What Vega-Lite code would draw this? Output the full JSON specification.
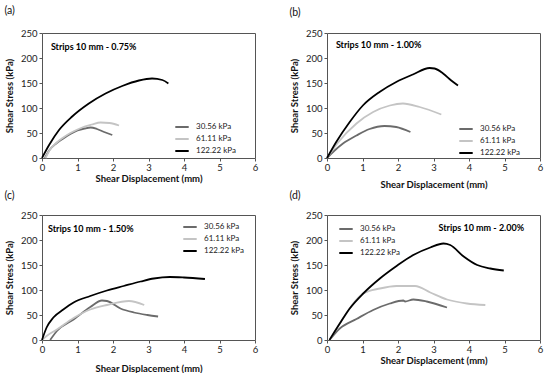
{
  "$schema": "https://vega.github.io/schema/vega-lite/v6.json",
  "background": "white",
  "padding": {"left": 3, "top": 5, "right": 5, "bottom": 0},
  "config": {
    "font": "Lato",
    "view": {"stroke": "#555555", "strokeWidth": 1},
    "axis": {
      "grid": false, "domain": false, "tickColor": "#555555", "tickSize": 3,
      "labelFont": "Lato", "labelFontSize": 9.5, "labelColor": "#222222", "labelOverlap": false, "labelFlush": false,
      "titleFont": "Lato", "titleFontSize": 9.5, "titleFontWeight": "bold", "titleColor": "#111111"
    },
    "legend": {
      "labelFont": "Lato", "labelFontSize": 8, "labelColor": "#222222",
      "symbolType": "stroke", "symbolStrokeWidth": 2, "symbolSize": 180,
      "rowPadding": -2, "labelOffset": 6, "title": null, "padding": 0
    },
    "title": {"font": "Lato", "fontSize": 10.5, "fontWeight": "normal", "anchor": "start", "frame": "bounds", "color": "#111111"}
  },
  "datasets": {
    "curves": [
      {"panel": "a", "load": "30.56 kPa", "x": 0.08, "y": 0},
      {"panel": "a", "load": "30.56 kPa", "x": 0.2, "y": 15},
      {"panel": "a", "load": "30.56 kPa", "x": 0.4, "y": 29},
      {"panel": "a", "load": "30.56 kPa", "x": 0.6, "y": 39},
      {"panel": "a", "load": "30.56 kPa", "x": 0.8, "y": 48},
      {"panel": "a", "load": "30.56 kPa", "x": 1.0, "y": 55},
      {"panel": "a", "load": "30.56 kPa", "x": 1.2, "y": 59},
      {"panel": "a", "load": "30.56 kPa", "x": 1.37, "y": 61},
      {"panel": "a", "load": "30.56 kPa", "x": 1.55, "y": 58},
      {"panel": "a", "load": "30.56 kPa", "x": 1.75, "y": 52},
      {"panel": "a", "load": "30.56 kPa", "x": 1.98, "y": 46},
      {"panel": "a", "load": "61.11 kPa", "x": 0.1, "y": 0},
      {"panel": "a", "load": "61.11 kPa", "x": 0.2, "y": 14},
      {"panel": "a", "load": "61.11 kPa", "x": 0.4, "y": 30},
      {"panel": "a", "load": "61.11 kPa", "x": 0.6, "y": 41},
      {"panel": "a", "load": "61.11 kPa", "x": 0.8, "y": 50},
      {"panel": "a", "load": "61.11 kPa", "x": 1.0, "y": 57},
      {"panel": "a", "load": "61.11 kPa", "x": 1.2, "y": 63},
      {"panel": "a", "load": "61.11 kPa", "x": 1.4, "y": 67},
      {"panel": "a", "load": "61.11 kPa", "x": 1.65, "y": 71},
      {"panel": "a", "load": "61.11 kPa", "x": 1.9, "y": 70},
      {"panel": "a", "load": "61.11 kPa", "x": 2.17, "y": 65},
      {"panel": "a", "load": "122.22 kPa", "x": 0.0, "y": 0},
      {"panel": "a", "load": "122.22 kPa", "x": 0.2, "y": 26},
      {"panel": "a", "load": "122.22 kPa", "x": 0.48, "y": 56},
      {"panel": "a", "load": "122.22 kPa", "x": 0.85, "y": 83},
      {"panel": "a", "load": "122.22 kPa", "x": 1.32, "y": 109},
      {"panel": "a", "load": "122.22 kPa", "x": 1.79, "y": 129},
      {"panel": "a", "load": "122.22 kPa", "x": 2.26, "y": 144},
      {"panel": "a", "load": "122.22 kPa", "x": 2.73, "y": 155},
      {"panel": "a", "load": "122.22 kPa", "x": 3.1, "y": 159},
      {"panel": "a", "load": "122.22 kPa", "x": 3.39, "y": 156},
      {"panel": "a", "load": "122.22 kPa", "x": 3.56, "y": 149},

      {"panel": "b", "load": "30.56 kPa", "x": 0.0, "y": 0},
      {"panel": "b", "load": "30.56 kPa", "x": 0.2, "y": 14},
      {"panel": "b", "load": "30.56 kPa", "x": 0.45, "y": 29},
      {"panel": "b", "load": "30.56 kPa", "x": 0.83, "y": 45},
      {"panel": "b", "load": "30.56 kPa", "x": 1.2, "y": 58},
      {"panel": "b", "load": "30.56 kPa", "x": 1.62, "y": 64},
      {"panel": "b", "load": "30.56 kPa", "x": 1.95, "y": 62},
      {"panel": "b", "load": "30.56 kPa", "x": 2.35, "y": 52},
      {"panel": "b", "load": "61.11 kPa", "x": 0.0, "y": 0},
      {"panel": "b", "load": "61.11 kPa", "x": 0.3, "y": 30},
      {"panel": "b", "load": "61.11 kPa", "x": 0.83, "y": 69},
      {"panel": "b", "load": "61.11 kPa", "x": 1.3, "y": 92},
      {"panel": "b", "load": "61.11 kPa", "x": 1.77, "y": 105},
      {"panel": "b", "load": "61.11 kPa", "x": 2.14, "y": 109},
      {"panel": "b", "load": "61.11 kPa", "x": 2.61, "y": 102},
      {"panel": "b", "load": "61.11 kPa", "x": 3.22, "y": 87},
      {"panel": "b", "load": "122.22 kPa", "x": 0.0, "y": 0},
      {"panel": "b", "load": "122.22 kPa", "x": 0.26, "y": 32},
      {"panel": "b", "load": "122.22 kPa", "x": 0.64, "y": 72},
      {"panel": "b", "load": "122.22 kPa", "x": 1.01, "y": 105},
      {"panel": "b", "load": "122.22 kPa", "x": 1.48, "y": 132},
      {"panel": "b", "load": "122.22 kPa", "x": 1.95, "y": 152},
      {"panel": "b", "load": "122.22 kPa", "x": 2.42, "y": 167},
      {"panel": "b", "load": "122.22 kPa", "x": 2.89, "y": 180},
      {"panel": "b", "load": "122.22 kPa", "x": 3.03, "y": 179},
      {"panel": "b", "load": "122.22 kPa", "x": 3.27, "y": 169},
      {"panel": "b", "load": "122.22 kPa", "x": 3.5, "y": 155},
      {"panel": "b", "load": "122.22 kPa", "x": 3.69, "y": 145},

      {"panel": "c", "load": "30.56 kPa", "x": 0.23, "y": 0},
      {"panel": "c", "load": "30.56 kPa", "x": 0.42, "y": 18},
      {"panel": "c", "load": "30.56 kPa", "x": 0.89, "y": 41},
      {"panel": "c", "load": "30.56 kPa", "x": 1.36, "y": 66},
      {"panel": "c", "load": "30.56 kPa", "x": 1.69, "y": 79},
      {"panel": "c", "load": "30.56 kPa", "x": 1.83, "y": 78},
      {"panel": "c", "load": "30.56 kPa", "x": 2.21, "y": 63},
      {"panel": "c", "load": "30.56 kPa", "x": 2.59, "y": 55},
      {"panel": "c", "load": "30.56 kPa", "x": 2.97, "y": 50},
      {"panel": "c", "load": "30.56 kPa", "x": 3.27, "y": 47},
      {"panel": "c", "load": "61.11 kPa", "x": 0.0, "y": 0},
      {"panel": "c", "load": "61.11 kPa", "x": 0.13, "y": 8},
      {"panel": "c", "load": "61.11 kPa", "x": 0.42, "y": 21},
      {"panel": "c", "load": "61.11 kPa", "x": 0.89, "y": 44},
      {"panel": "c", "load": "61.11 kPa", "x": 1.36, "y": 61},
      {"panel": "c", "load": "61.11 kPa", "x": 1.83, "y": 70},
      {"panel": "c", "load": "61.11 kPa", "x": 2.45, "y": 78},
      {"panel": "c", "load": "61.11 kPa", "x": 2.88, "y": 70},
      {"panel": "c", "load": "122.22 kPa", "x": 0.0, "y": 0},
      {"panel": "c", "load": "122.22 kPa", "x": 0.13, "y": 25},
      {"panel": "c", "load": "122.22 kPa", "x": 0.32, "y": 45},
      {"panel": "c", "load": "122.22 kPa", "x": 0.6, "y": 61},
      {"panel": "c", "load": "122.22 kPa", "x": 0.89, "y": 75},
      {"panel": "c", "load": "122.22 kPa", "x": 1.36, "y": 88},
      {"panel": "c", "load": "122.22 kPa", "x": 1.83, "y": 99},
      {"panel": "c", "load": "122.22 kPa", "x": 2.3, "y": 108},
      {"panel": "c", "load": "122.22 kPa", "x": 2.78, "y": 117},
      {"panel": "c", "load": "122.22 kPa", "x": 3.15, "y": 123},
      {"panel": "c", "load": "122.22 kPa", "x": 3.6, "y": 126},
      {"panel": "c", "load": "122.22 kPa", "x": 4.0, "y": 125},
      {"panel": "c", "load": "122.22 kPa", "x": 4.59, "y": 122},

      {"panel": "d", "load": "30.56 kPa", "x": 0.07, "y": 0},
      {"panel": "d", "load": "30.56 kPa", "x": 0.36, "y": 23},
      {"panel": "d", "load": "30.56 kPa", "x": 0.83, "y": 42},
      {"panel": "d", "load": "30.56 kPa", "x": 1.3, "y": 60},
      {"panel": "d", "load": "30.56 kPa", "x": 1.77, "y": 73},
      {"panel": "d", "load": "30.56 kPa", "x": 2.15, "y": 79},
      {"panel": "d", "load": "30.56 kPa", "x": 2.2, "y": 77},
      {"panel": "d", "load": "30.56 kPa", "x": 2.43, "y": 81},
      {"panel": "d", "load": "30.56 kPa", "x": 2.81, "y": 77},
      {"panel": "d", "load": "30.56 kPa", "x": 3.38, "y": 65},
      {"panel": "d", "load": "61.11 kPa", "x": 0.07, "y": 0},
      {"panel": "d", "load": "61.11 kPa", "x": 0.45, "y": 43},
      {"panel": "d", "load": "61.11 kPa", "x": 0.83, "y": 81},
      {"panel": "d", "load": "61.11 kPa", "x": 1.02, "y": 93},
      {"panel": "d", "load": "61.11 kPa", "x": 1.49, "y": 103},
      {"panel": "d", "load": "61.11 kPa", "x": 1.96, "y": 108},
      {"panel": "d", "load": "61.11 kPa", "x": 2.48, "y": 108},
      {"panel": "d", "load": "61.11 kPa", "x": 2.91, "y": 95},
      {"panel": "d", "load": "61.11 kPa", "x": 3.38, "y": 81},
      {"panel": "d", "load": "61.11 kPa", "x": 3.94, "y": 73},
      {"panel": "d", "load": "61.11 kPa", "x": 4.46, "y": 70},
      {"panel": "d", "load": "122.22 kPa", "x": 0.07, "y": 0},
      {"panel": "d", "load": "122.22 kPa", "x": 0.36, "y": 33},
      {"panel": "d", "load": "122.22 kPa", "x": 0.64, "y": 63},
      {"panel": "d", "load": "122.22 kPa", "x": 1.02, "y": 93},
      {"panel": "d", "load": "122.22 kPa", "x": 1.49, "y": 123},
      {"panel": "d", "load": "122.22 kPa", "x": 1.96, "y": 148},
      {"panel": "d", "load": "122.22 kPa", "x": 2.43, "y": 170},
      {"panel": "d", "load": "122.22 kPa", "x": 2.91, "y": 185},
      {"panel": "d", "load": "122.22 kPa", "x": 3.28, "y": 193},
      {"panel": "d", "load": "122.22 kPa", "x": 3.47, "y": 190},
      {"panel": "d", "load": "122.22 kPa", "x": 3.85, "y": 167},
      {"panel": "d", "load": "122.22 kPa", "x": 4.23, "y": 150},
      {"panel": "d", "load": "122.22 kPa", "x": 4.6, "y": 143},
      {"panel": "d", "load": "122.22 kPa", "x": 4.98, "y": 139}
    ],
    "notes": [
      {"panel": "a", "label": "Strips 10 mm - 0.75%", "x": 0.25, "y": 222},
      {"panel": "b", "label": "Strips 10 mm - 1.00%", "x": 0.25, "y": 226},
      {"panel": "c", "label": "Strips 10 mm - 1.50%", "x": 0.17, "y": 222},
      {"panel": "d", "label": "Strips 10 mm - 2.00%", "x": 3.14, "y": 224}
    ]
  },
  "columns": 2,
  "spacing": {"column": 29, "row": 0},
  "resolve": {"legend": {"color": "independent"}, "scale": {"color": "shared"}},
  "concat": [
    {
      "title": {"text": "(a)", "offset": 12},
      "width": 213, "height": 125,
      "encoding": {
        "x": {"field": "x", "type": "quantitative", "scale": {"domain": [0, 6]}, "axis": {"title": "Shear Displacement (mm)", "values": [0, 1, 2, 3, 4, 5, 6], "titlePadding": 2, "labelPadding": 1}},
        "y": {"field": "y", "type": "quantitative", "scale": {"domain": [0, 250]}, "axis": {"title": "Shear Stress (kPa)", "values": [0, 50, 100, 150, 200, 250], "titlePadding": 6, "labelPadding": 2}}
      },
      "layer": [
        {
          "data": {"name": "curves"},
          "transform": [{"filter": "datum.panel === 'a'"}],
          "mark": {"type": "line", "strokeWidth": 1.8, "interpolate": "monotone"},
          "encoding": {
            "color": {"field": "load", "type": "nominal", "sort": ["30.56 kPa", "61.11 kPa", "122.22 kPa"],
              "scale": {"domain": ["30.56 kPa", "61.11 kPa", "122.22 kPa"], "range": ["#6b6b6b", "#c4c4c4", "#000000"]},
              "legend": {"orient": "none", "legendX": 132, "legendY": 86}}
          }
        },
        {
          "data": {"name": "notes"},
          "transform": [{"filter": "datum.panel === 'a'"}],
          "mark": {"type": "text", "align": "left", "baseline": "middle", "fontWeight": "bold", "fontSize": 9, "font": "Lato"},
          "encoding": {"text": {"field": "label"}}
        }
      ]
    },
    {
      "title": {"text": "(b)", "offset": 10},
      "width": 213, "height": 125,
      "encoding": {
        "x": {"field": "x", "type": "quantitative", "scale": {"domain": [0, 6]}, "axis": {"title": "Shear Displacement (mm)", "values": [0, 1, 2, 3, 4, 5, 6], "titlePadding": 8, "labelPadding": 1}},
        "y": {"field": "y", "type": "quantitative", "scale": {"domain": [0, 250]}, "axis": {"title": "Shear Stress (kPa)", "values": [0, 50, 100, 150, 200, 250], "titlePadding": 6, "labelPadding": 2}}
      },
      "layer": [
        {
          "data": {"name": "curves"},
          "transform": [{"filter": "datum.panel === 'b'"}],
          "mark": {"type": "line", "strokeWidth": 1.8, "interpolate": "monotone"},
          "encoding": {
            "color": {"field": "load", "type": "nominal", "sort": ["30.56 kPa", "61.11 kPa", "122.22 kPa"],
              "scale": {"domain": ["30.56 kPa", "61.11 kPa", "122.22 kPa"], "range": ["#6b6b6b", "#c4c4c4", "#000000"]},
              "legend": {"orient": "none", "legendX": 131, "legendY": 88}}
          }
        },
        {
          "data": {"name": "notes"},
          "transform": [{"filter": "datum.panel === 'b'"}],
          "mark": {"type": "text", "align": "left", "baseline": "middle", "fontWeight": "bold", "fontSize": 9, "font": "Lato"},
          "encoding": {"text": {"field": "label"}}
        }
      ]
    },
    {
      "title": {"text": "(c)", "offset": 9},
      "width": 213, "height": 125,
      "encoding": {
        "x": {"field": "x", "type": "quantitative", "scale": {"domain": [0, 6]}, "axis": {"title": "Shear Displacement (mm)", "values": [0, 1, 2, 3, 4, 5, 6], "titlePadding": 10, "labelPadding": 1}},
        "y": {"field": "y", "type": "quantitative", "scale": {"domain": [0, 250]}, "axis": {"title": "Shear Stress (kPa)", "values": [0, 50, 100, 150, 200, 250], "titlePadding": 6, "labelPadding": 2}}
      },
      "layer": [
        {
          "data": {"name": "curves"},
          "transform": [{"filter": "datum.panel === 'c'"}],
          "mark": {"type": "line", "strokeWidth": 1.8, "interpolate": "monotone"},
          "encoding": {
            "color": {"field": "load", "type": "nominal", "sort": ["30.56 kPa", "61.11 kPa", "122.22 kPa"],
              "scale": {"domain": ["30.56 kPa", "61.11 kPa", "122.22 kPa"], "range": ["#6b6b6b", "#c4c4c4", "#000000"]},
              "legend": {"orient": "none", "legendX": 140, "legendY": 4}}
          }
        },
        {
          "data": {"name": "notes"},
          "transform": [{"filter": "datum.panel === 'c'"}],
          "mark": {"type": "text", "align": "left", "baseline": "middle", "fontWeight": "bold", "fontSize": 9, "font": "Lato"},
          "encoding": {"text": {"field": "label"}}
        }
      ]
    },
    {
      "title": {"text": "(d)", "offset": 9},
      "width": 213, "height": 125,
      "encoding": {
        "x": {"field": "x", "type": "quantitative", "scale": {"domain": [0, 6]}, "axis": {"title": "Shear Displacement (mm)", "values": [0, 1, 2, 3, 4, 5, 6], "titlePadding": 2, "labelPadding": 1}},
        "y": {"field": "y", "type": "quantitative", "scale": {"domain": [0, 250]}, "axis": {"title": "Shear Stress (kPa)", "values": [0, 50, 100, 150, 200, 250], "titlePadding": 6, "labelPadding": 2}}
      },
      "layer": [
        {
          "data": {"name": "curves"},
          "transform": [{"filter": "datum.panel === 'd'"}],
          "mark": {"type": "line", "strokeWidth": 1.8, "interpolate": "monotone"},
          "encoding": {
            "color": {"field": "load", "type": "nominal", "sort": ["30.56 kPa", "61.11 kPa", "122.22 kPa"],
              "scale": {"domain": ["30.56 kPa", "61.11 kPa", "122.22 kPa"], "range": ["#6b6b6b", "#c4c4c4", "#000000"]},
              "legend": {"orient": "none", "legendX": 11, "legendY": 6}}
          }
        },
        {
          "data": {"name": "notes"},
          "transform": [{"filter": "datum.panel === 'd'"}],
          "mark": {"type": "text", "align": "left", "baseline": "middle", "fontWeight": "bold", "fontSize": 9, "font": "Lato"},
          "encoding": {"text": {"field": "label"}}
        }
      ]
    }
  ]
}
